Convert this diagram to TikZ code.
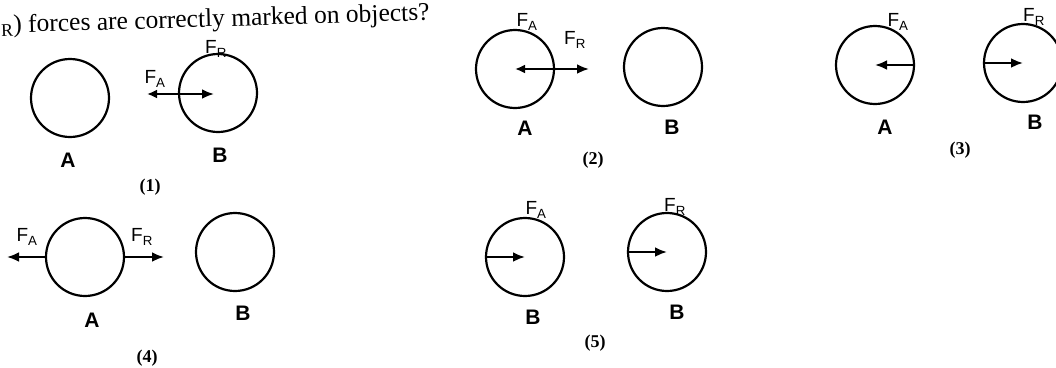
\documentclass[tikz,border=0pt]{standalone}
\usepackage{fontspec}
\setmainfont{Liberation Serif}
\setsansfont{Liberation Sans}
\usetikzlibrary{arrows.meta}

\begin{document}
\begin{tikzpicture}[
  x=1pt,y=-1pt,
  ball/.style={draw,circle,line width=2.2pt,minimum size=78pt,inner sep=0pt},
  force/.style={-{Latex[length=12pt,width=10pt]},line width=2.4pt},
  fboth/.style={{Latex[length=10pt,width=9pt]}-{Latex[length=12pt,width=10pt]},line width=2.4pt},
  lab/.style={font=\fontsize{21}{23}\sffamily\bfseries},
  flab/.style={font=\fontsize{19}{21}\sffamily,inner sep=1pt},
  num/.style={font=\fontsize{18}{20}\bfseries}
]
\useasboundingbox (0,0) rectangle (1056,367);

% Question line
\node[anchor=base west,rotate=1.7,inner sep=0pt,font=\fontsize{25.5}{27}\selectfont] (q) at (1,33)
  {\textsubscript{R}) forces are correctly marked on objects?};

% Objects
\node[ball] (A1) at (70,98)   {};
\node[ball] (B1) at (218,93)  {};
\node[ball] (A2) at (515,69)  {};
\node[ball] (B2) at (663,67)  {};
\node[ball] (A3) at (875,65)  {};
\node[ball] (B3) at (1023,63) {};
\node[ball] (A4) at (85,257)  {};
\node[ball] (B4) at (235,252) {};
\node[ball] (B5) at (525,257) {};
\node[ball] (C5) at (667,252) {};

% Free arrow ends
\coordinate (s1) at (147,94);
\coordinate (t1) at (214,94);
\coordinate (t2) at (589,69);
\coordinate (t4a) at (7,257);
\coordinate (t4b) at (164,257);

% Forces
\draw[fboth] (s1) -- (t1);
\draw[fboth] (A2.center) -- (t2);
\draw[force] (A3.east) -- (A3.center);
\draw[force] (B3.west) -- (B3.center);
\draw[force] (A4.west) -- (t4a);
\draw[force] (A4.east) -- (t4b);
\draw[force] (B5.west) -- (B5.center);
\draw[force] (C5.west) -- (C5.center);

% Force labels
\node[flab] (fa1) at (155,79)  {F\textsubscript{A}};
\node[flab] (fr1) at (216,49)  {F\textsubscript{R}};
\node[flab] (fa2) at (527,22)  {F\textsubscript{A}};
\node[flab] (fr2) at (575,40)  {F\textsubscript{R}};
\node[flab] (fa3) at (898,22)  {F\textsubscript{A}};
\node[flab] (fr3) at (1034,17) {F\textsubscript{R}};
\node[flab] (fa4) at (27,237)  {F\textsubscript{A}};
\node[flab] (fr4) at (142,237) {F\textsubscript{R}};
\node[flab] (fa5) at (536,210) {F\textsubscript{A}};
\node[flab] (fr5) at (675,207) {F\textsubscript{R}};

% Object names
\node[lab] (la1) at (68,160)  {A};
\node[lab] (lb1) at (220,155) {B};
\node[lab] (la2) at (525,128) {A};
\node[lab] (lb2) at (672,127) {B};
\node[lab] (la3) at (885,127) {A};
\node[lab] (lb3) at (1035,122) {B};
\node[lab] (la4) at (92,320)  {A};
\node[lab] (lb4) at (243,313) {B};
\node[lab] (lb5) at (533,317) {B};
\node[lab] (lc5) at (677,312) {B};

% Case numbers
\foreach \n/\x/\y in {1/150/187,2/593/160,3/960/150,4/147/358,5/595/343}
  \node[num] (n\n) at (\x,\y) {(\n)};
\end{tikzpicture}
\end{document}
